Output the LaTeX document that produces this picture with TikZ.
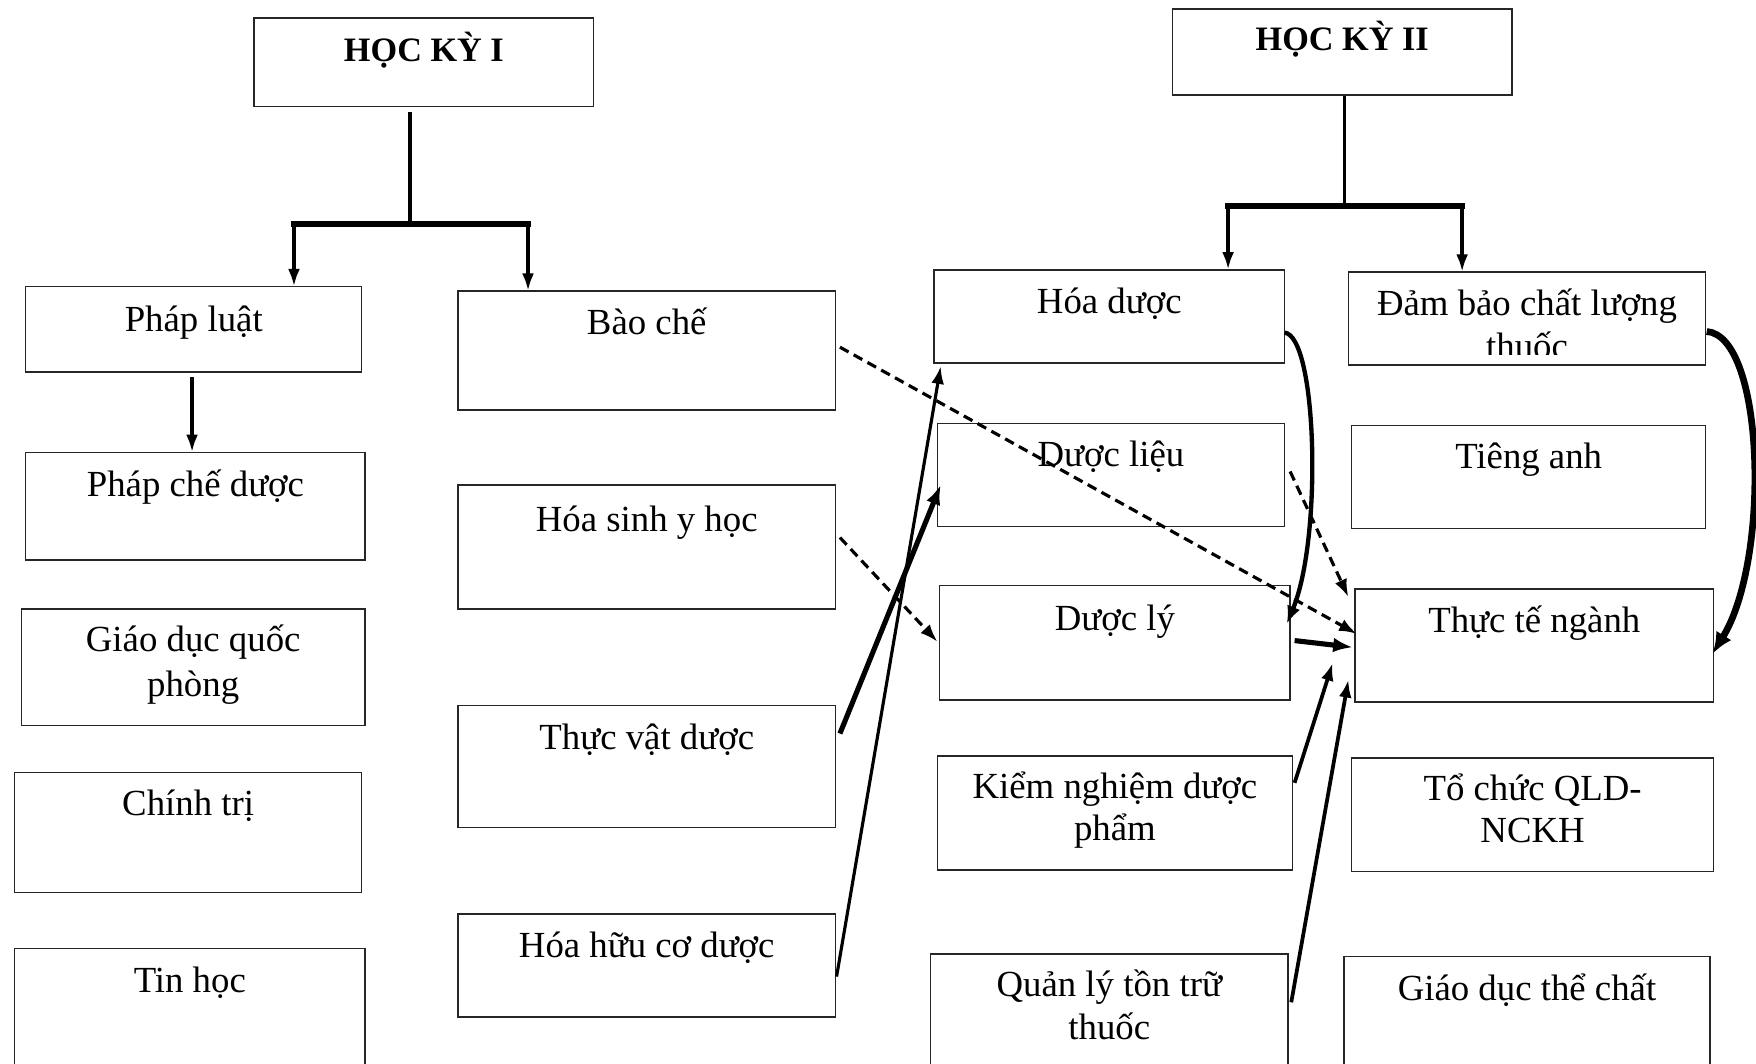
\documentclass[tikz,border=0pt]{standalone}
\usepackage{fontspec}
\setmainfont{Liberation Serif}
\usetikzlibrary{arrows.meta,calc}
\newcommand\mybox[5]{\node[box, minimum width={(#4-#2)*0.02cm}, minimum height={(#5-#3)*0.02cm}] (#1) at ({(#2+#4)/2},{(#3+#5)/2}) {};}
\begin{document}
\begin{tikzpicture}[x=0.02cm,y=-0.02cm,
 box/.style={draw=black!85, line width=0.75pt, inner sep=0pt, outer sep=0pt, rectangle},
 txt/.style={anchor=base, inner sep=0pt, font=\fontsize{18.7}{22}\selectfont},
 ttl/.style={anchor=base, inner sep=0pt, font=\fontsize{17.4}{20}\selectfont\bfseries},
 tree/.style={line width=1.8pt},
 bar/.style={line width=2.8pt, line cap=rect},
 tarr/.style={line width=1.8pt, -{Latex[length=9pt,width=6pt]}},
 darr/.style={line width=1.6pt, dash pattern=on 5pt off 3pt, -{Latex[length=9pt,width=6.5pt]}},
 sarr/.style={line width=1.6pt, -{Latex[length=9pt,width=6.5pt]}},
 tharr/.style={line width=2.6pt, -{Latex[length=10pt,width=7.5pt]}},
 carr/.style={line width=2.2pt, -{Latex[length=9pt,width=7pt]}},
 bcarr/.style={line width=3.4pt, -{Latex[length=11pt,width=9pt]}}
]
\clip (0,0) rectangle (1568,950);
\fill[white] (0,0) rectangle (1568,950);

% boxes
\mybox{hk1}{227}{16}{530}{95}
\mybox{hk2}{1047}{8}{1350}{85}
\mybox{pl}{23}{256}{323}{332}
\mybox{bc}{409}{260}{746}{366}
\mybox{pcd}{23}{404}{326}{500}
\mybox{hsyh}{409}{433}{746}{544}
\mybox{gdqp}{19}{544}{326}{648}
\mybox{tvd}{409}{630}{746}{739}
\mybox{ct}{13}{690}{323}{797}
\mybox{hhcd}{409}{816}{746}{908}
\mybox{th}{13}{847}{326}{990}
\mybox{hd}{834}{241}{1147}{324}
\mybox{dbcl}{1204}{243}{1523}{326}
\mybox{dl}{837}{378}{1147}{470}
\mybox{ta}{1207}{380}{1523}{472}
\mybox{dly}{839}{523}{1152}{625}
\mybox{ttn}{1210}{526}{1530}{627}
\mybox{knd}{837}{675}{1154}{777}
\mybox{tc}{1207}{677}{1530}{778}
\mybox{ql}{831}{852}{1150}{990}
\mybox{gdtc}{1200}{854}{1527}{990}

% texts
\node[ttl] (thk1) at (378.5,54.6) {HỌC KỲ I};
\node[ttl] (thk2) at (1198.5,45.5) {HỌC KỲ II};
\node[txt] (tpl) at (173,296.4) {Pháp luật};
\node[txt] (tbc) at (577.5,298.5) {Bào chế};
\node[txt] (tpcd) at (174.5,443) {Pháp chế dược};
\node[txt] (thsyh) at (577.5,475) {Hóa sinh y học};
\node[txt] (tgdqp1) at (172.5,581.7) {Giáo dục quốc};
\node[txt] (tgdqp2) at (172.5,622) {phòng};
\node[txt] (ttvd) at (577.5,669) {Thực vật dược};
\node[txt] (tct) at (168,728) {Chính trị};
\node[txt] (thhcd) at (577.5,855.4) {Hóa hữu cơ dược};
\node[txt] (tth) at (169.5,886) {Tin học};
\node[txt] (thd) at (990.5,280.3) {Hóa dược};
\node[txt] (tdbcl1) at (1363.5,281.8) {Đảm bảo chất lượng};
\begin{scope}
\clip (1204,243) rectangle (1523,316.6);
\node[txt] (tdbcl2) at (1363.5,320) {thuốc};
\end{scope}
\node[txt] (tdl) at (992,416.6) {Dược liệu};
\node[txt] (tta) at (1365,418) {Tiêng anh};
\node[txt] (tdly) at (995.5,563) {Dược lý};
\node[txt] (tttn) at (1370,564.5) {Thực tế ngành};
\node[txt] (tknd1) at (995.5,713) {Kiểm nghiệm dược};
\node[txt] (tknd2) at (995.5,750.8) {phẩm};
\node[txt] (ttc1) at (1368.5,714.6) {Tổ chức QLD-};
\node[txt] (ttc2) at (1368.5,752) {NCKH};
\node[txt] (tql1) at (990.5,890) {Quản lý tồn trữ};
\node[txt] (tql2) at (990.5,928) {thuốc};
\node[txt] (tgdtc) at (1363.5,893) {Giáo dục thể chất};

% tree HK1
\coordinate (s1) at (366,100);
\coordinate (m1) at (366,200);
\coordinate (l1) at (262.5,200);
\coordinate (r1) at (471.5,200);
\draw[tree] (s1) -- (m1);
\draw[bar] (l1) -- (r1);
\draw[tarr] (l1) -- (l1 |- pl.north);
\draw[tarr] (r1) -- (r1 |- bc.north);
\coordinate (plo) at (171.5,336.5);
\draw[tarr] (plo) -- (plo |- pcd.north);

% tree HK2
\coordinate (s2) at (1200.5,85.5);
\coordinate (m2) at (1200.5,184);
\coordinate (l2) at (1096.6,184);
\coordinate (r2) at (1305.6,184);
\draw[tree] (s2) -- (m2);
\draw[bar] (l2) -- (r2);
\draw[tarr] (l2) -- (l2 |- hd.north);
\draw[tarr] (r2) -- (r2 |- dbcl.north);

% connectors
\coordinate (bcO) at (750,310);   \coordinate (ttnI1) at (1211.5,566);
\coordinate (hsO) at (750,480);   \coordinate (dlyI) at (837,573);
\coordinate (dlO) at (1152,421);  \coordinate (ttnI2) at (1204,533);
\coordinate (tvO) at (750,655);   \coordinate (dlI) at (840,433);
\coordinate (hhO) at (747,872);   \coordinate (hdI) at (840,327);
\coordinate (dlyO) at (1156,572); \coordinate (ttnI3) at (1208,578);
\coordinate (knO) at (1156,699);  \coordinate (ttnI4) at (1190,592);
\coordinate (qlO) at (1153,895);  \coordinate (ttnI5) at (1204,607);
\coordinate (hdO) at (1147,297);  \coordinate (dlyI2) at (1149,557);
\coordinate (dbO) at (1524,296);  \coordinate (ttnI6) at (1529,584);

\draw[darr] (bcO) -- (ttnI1);
\draw[darr] (hsO) -- (dlyI);
\draw[darr] (dlO) -- (ttnI2);
\draw[tharr] (tvO) -- (dlI);
\draw[sarr] (hhO) -- (hdI);
\draw[tharr] (dlyO) -- (ttnI3);
\draw[sarr, line width=1.9pt] (knO) -- (ttnI4);
\draw[sarr, line width=1.9pt] (qlO) -- (ttnI5);
\draw[carr] (hdO) .. controls (1176,300) and (1181,480) .. (dlyI2);
\draw[bcarr] (dbO) .. controls (1576,300) and (1581,500) .. (ttnI6);
\end{tikzpicture}
\end{document}
